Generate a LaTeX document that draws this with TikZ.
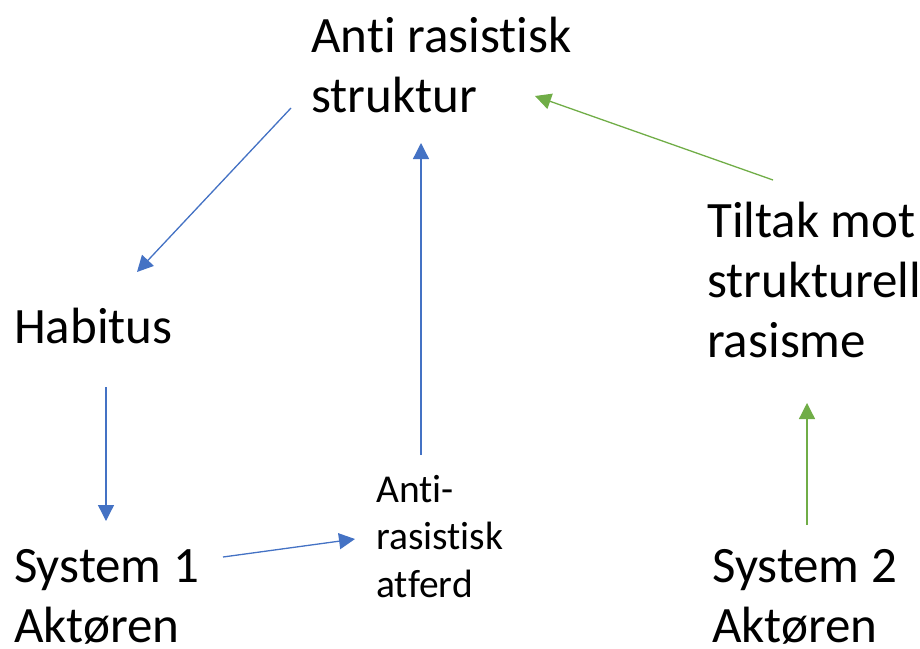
\documentclass[tikz,border=0pt]{standalone}
\usepackage{fontspec}
\setmainfont{Carlito}[Ligatures={NoCommon}]
\usetikzlibrary{arrows.meta}
\definecolor{arrblue}{HTML}{4472C4}
\definecolor{arrgreen}{HTML}{70AD47}
\tikzset{
  big/.style={anchor=base west,inner sep=0pt,align=left,font=\fontsize{51}{60}\selectfont},
  small/.style={anchor=base west,inner sep=0pt,align=left,font=\fontsize{39.5}{47.5}\selectfont},
  bluearrow/.style={draw=arrblue,line width=1.3pt,-{Triangle[length=16pt,width=16pt]},fill=arrblue},
  greenarrow/.style={draw=arrgreen,line width=1.3pt,-{Triangle[length=16pt,width=16pt]},fill=arrgreen},
}
\begin{document}
\begin{tikzpicture}[x=1pt,y=-1pt]
\useasboundingbox (0,0) rectangle (920,648);
% anchors are at the baseline of the last line
\node[big] (ars) at (311,112) {Anti rasistisk\\struktur};
\node[big] (hab) at (14,343) {Habitus};
\node[big] (tilt) at (707,357) {Tiltak mot\\strukturell\\rasisme};
\node[big] (sys1) at (14,642) {System 1\\Akt\o ren};
\node[big] (sys2) at (712,642) {System 2\\Akt\o ren};
\node[small] (atf) at (376,597) {Anti-\\rasistisk\\atferd};
% connector ends
\coordinate (ars-out) at (291,108);
\coordinate (hab-in) at (137,272);
\coordinate (ars-in-b) at (421,143);
\coordinate (atf-out) at (421,455);
\coordinate (hab-out) at (106,387);
\coordinate (sys1-in) at (106,521);
\coordinate (sys1-out) at (223,557);
\coordinate (atf-in) at (355,539);
\coordinate (tilt-out) at (773,180);
\coordinate (ars-in-g) at (535,96);
\coordinate (sys2-out) at (807,525);
\coordinate (tilt-in) at (807,403);
\draw[bluearrow] (ars-out) -- (hab-in);
\draw[bluearrow] (atf-out) -- (ars-in-b);
\draw[bluearrow] (hab-out) -- (sys1-in);
\draw[bluearrow] (sys1-out) -- (atf-in);
\draw[greenarrow] (tilt-out) -- (ars-in-g);
\draw[greenarrow] (sys2-out) -- (tilt-in);
\end{tikzpicture}
\end{document}
